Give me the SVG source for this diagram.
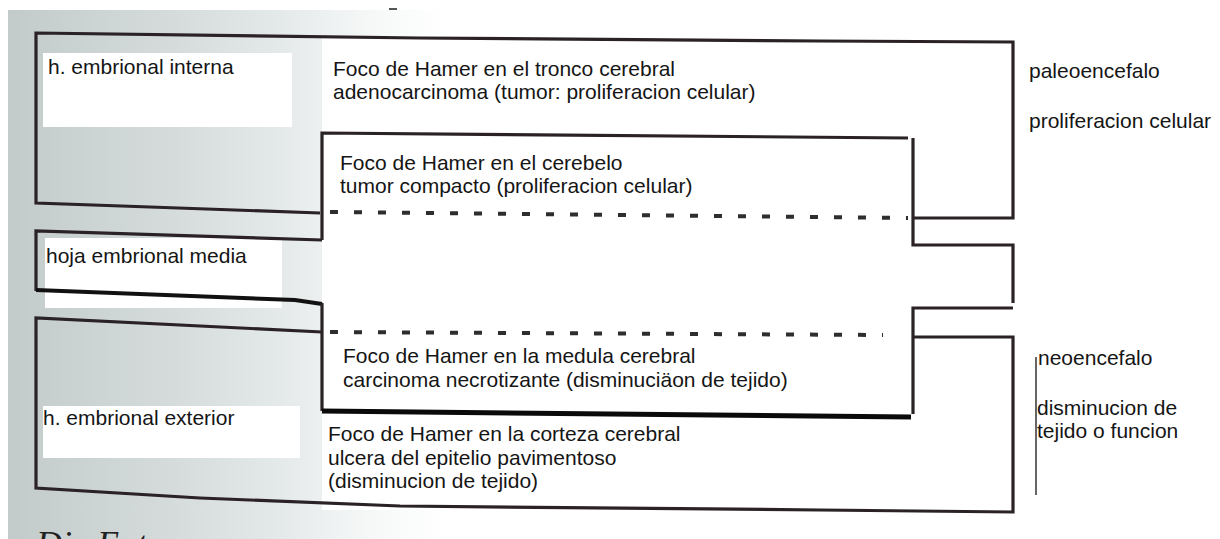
<svg xmlns="http://www.w3.org/2000/svg" width="1220" height="539" viewBox="0 0 1220 539">
<defs>
<linearGradient id="scan" x1="0" y1="0" x2="1" y2="0">
<stop offset="0" stop-color="#c2caca"/>
<stop offset="0.06" stop-color="#cbd2d2"/>
<stop offset="0.14" stop-color="#d6dcdc"/>
<stop offset="0.22" stop-color="#e3e8e8"/>
<stop offset="0.3" stop-color="#f6f8f8"/>
<stop offset="0.36" stop-color="#ffffff"/>
<stop offset="1" stop-color="#ffffff"/>
</linearGradient>
<style>
.ln{fill:none;stroke:#2a2226;stroke-width:3.2;stroke-linejoin:miter}
.thick{fill:none;stroke:#0a0a0a;stroke-width:5}
.mid{fill:none;stroke:#111;stroke-width:4}
.dash{fill:none;stroke:#2e2e2e;stroke-width:4;stroke-dasharray:8 16}
.thin{fill:none;stroke:#333;stroke-width:1.5}
.t{font-family:"Liberation Sans",Arial,sans-serif;font-size:21px;fill:#151515}
.box{fill:#ffffff}
</style>
</defs>
<g id="background">
<rect width="1220" height="539" fill="#ffffff"/>
<rect x="8" y="10" width="1212" height="529" fill="url(#scan)"/>
<rect x="322" y="36" width="691" height="474" fill="#ffffff"/>
<rect x="389" y="8" width="8" height="2" fill="#555"/>
</g>
<g id="paleoencefalo">
<rect class="box" x="43" y="53" width="249" height="74"/>
<path class="ln" d="M320,213 L150,207 L36,203 L36,33 L420,38 L820,41 L1013,42 L1013,218 L913,218"/>
<text class="t" x="48" y="74">h. embrional interna</text>
<text class="t" x="333" y="76">Foco de Hamer en el tronco cerebral</text>
<text class="t" x="333" y="99">adenocarcinoma (tumor: proliferacion celular)</text>
<text class="t" x="1029" y="78">paleoencefalo</text>
<text class="t" x="1029" y="128">proliferacion celular</text>
</g>
<g id="cerebelo">
<path class="ln" d="M322,240 L322,133 L908,138"/>
<path class="ln" d="M913,138 L913,245 L1013,245 L1013,303"/>
<text class="t" x="340" y="170">Foco de Hamer en el cerebelo</text>
<text class="t" x="340" y="193">tumor compacto (proliferacion celular)</text>
</g>
<g id="hoja-media">
<rect class="box" x="45" y="238" width="237" height="70"/>
<path class="ln" d="M322,240 L36,231 L36,291"/>
<path class="mid" d="M36,290 L295,300 L322,304"/>
<text class="t" x="46" y="263">hoja embrional media</text>
</g>
<g id="medula">
<path class="ln" d="M322,303 L322,411"/>
<path class="ln" d="M1013,308 L913,308 L913,414"/>
<path class="thick" d="M322,411 L911,417"/>
<text class="t" x="343" y="363">Foco de Hamer en la medula cerebral</text>
<text class="t" x="343" y="387">carcinoma necrotizante (disminuciäon de tejido)</text>
</g>
<g id="neoencefalo">
<rect class="box" x="43" y="406" width="257" height="52"/>
<path class="ln" d="M322,332 L36,318 L36,488 L200,498 L400,506 L820,510 L1013,512 L1013,337 L913,337"/>
<text class="t" x="43" y="425">h. embrional exterior</text>
<text class="t" x="328" y="441">Foco de Hamer en la corteza cerebral</text>
<text class="t" x="328" y="464.5">ulcera del epitelio pavimentoso</text>
<text class="t" x="328" y="488">(disminucion de tejido)</text>
<path class="thin" d="M1036,357 L1036,495"/>
<text class="t" x="1038" y="365">neoencefalo</text>
<text class="t" x="1037" y="415">disminucion de</text>
<text class="t" x="1037" y="438">tejido o funcion</text>
</g>
<g id="connectors">
<path class="dash" d="M330,212 L908,218"/>
<path class="dash" d="M330,332 L883,335"/>
</g>
<text x="36" y="556" font-family="Liberation Serif, serif" font-style="italic" font-size="36" fill="#222">Die Entw</text>
</svg>
